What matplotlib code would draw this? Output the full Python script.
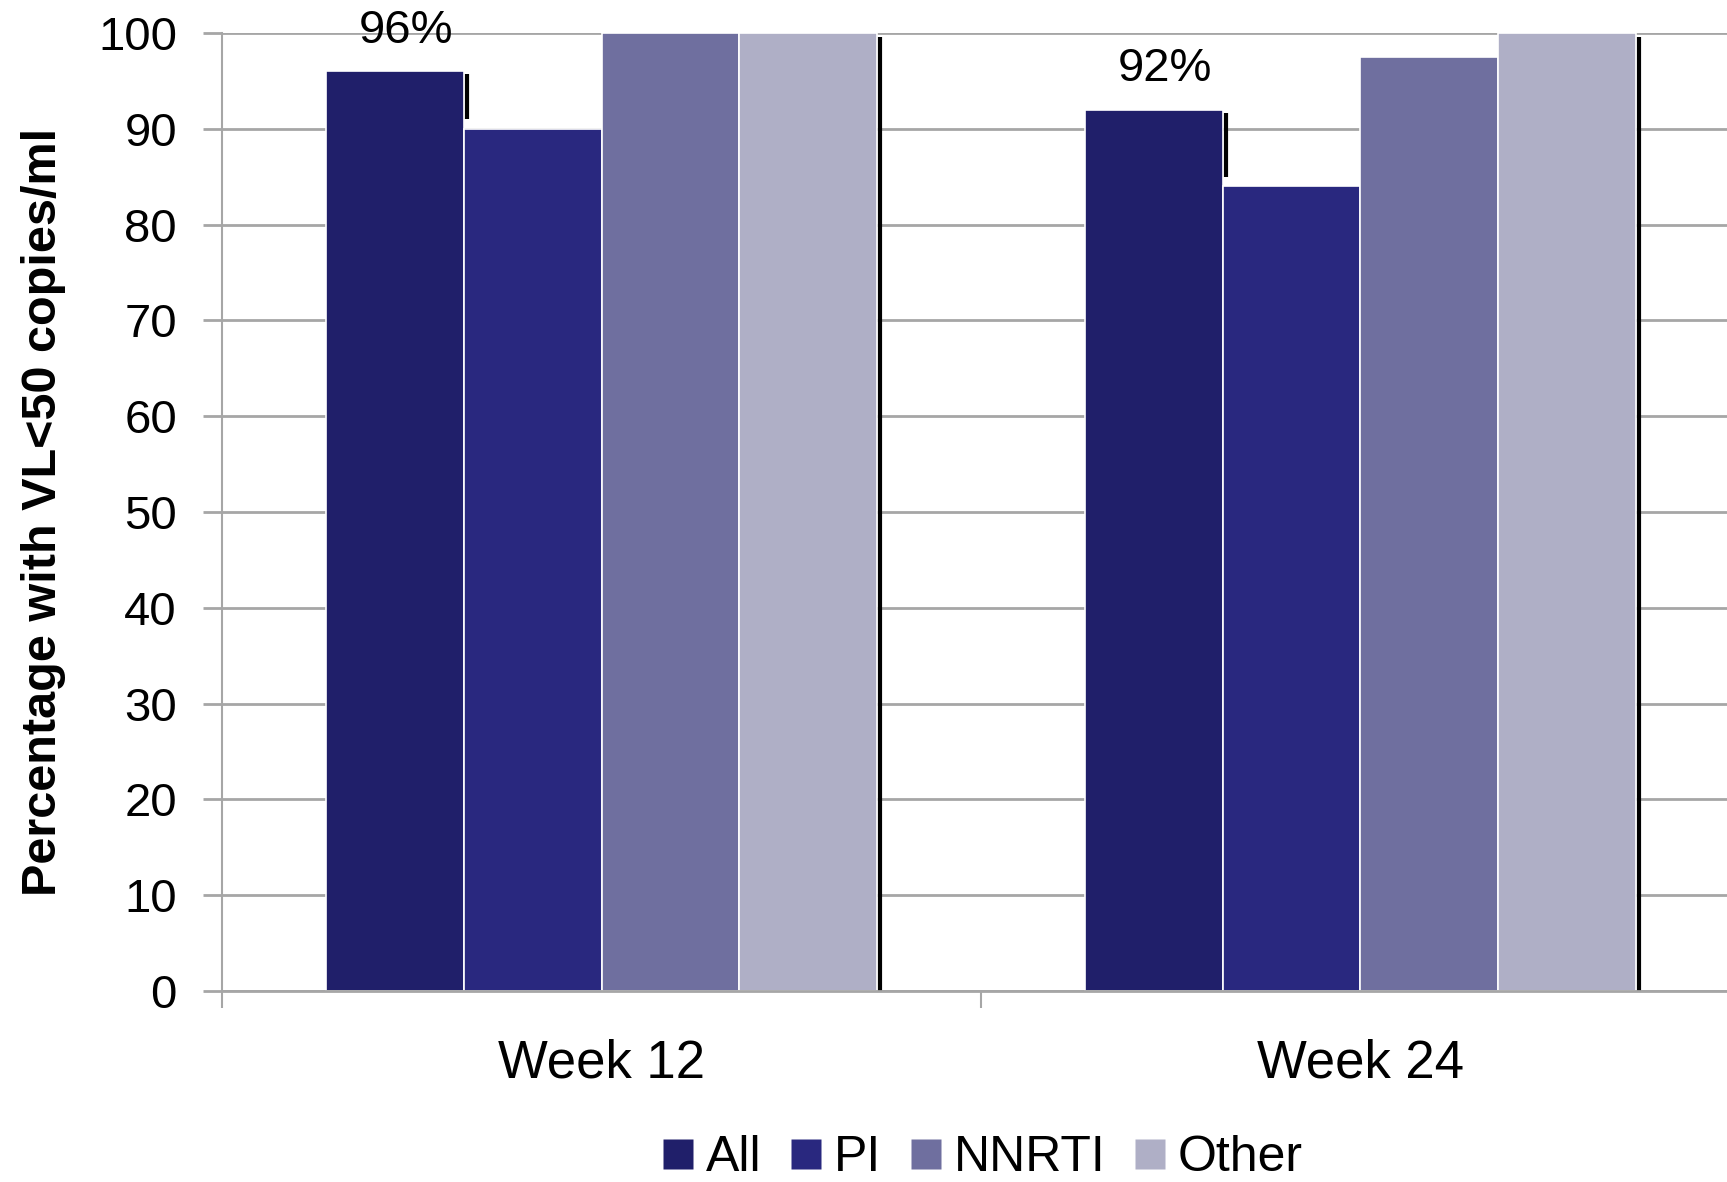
import numpy as np
from matplotlib import pyplot as plt

# viral load suppression by regimen group
weeks = ['Week 12', 'Week 24']
groups = ['All', 'PI', 'NNRTI', 'Other']
all_pct = [96, 92]
pi_pct = [90, 84]
nnrti_pct = [100, 97.5]
other_pct = [100, 100]
labels = ['96%', '92%']

colors = ['#201f6a', '#29287f', '#6f6f9f', '#afafc6']

plt.rcParams['font.family'] = ['Liberation Sans', 'DejaVu Sans']

fig = plt.figure(figsize=(17.27, 11.82), dpi=100)
ax = fig.add_axes([0.1286, 0.1616, 0.8714, 0.8104])

x = np.arange(len(weeks))
w = 0.1815
series = [all_pct, pi_pct, nnrti_pct, other_pct]
for i, (name, vals) in enumerate(zip(groups, series)):
    ax.bar(x + (i - 1.5) * w, vals, w, color=colors[i], edgecolor='white',
           linewidth=1.2, label=name, zorder=3)

# dark edge lines at the right side of the "All" and "Other" bars
for k in range(len(weeks)):
    ax.vlines(x[k] - w + 0.004, pi_pct[k] + 1.0, all_pct[k] - 0.3,
              color='black', linewidth=3, zorder=4)
    ax.vlines(x[k] + 2 * w + 0.004, 0, other_pct[k] - 0.4,
              color='black', linewidth=3, zorder=4)

for k, txt in enumerate(labels):
    ax.text(x[k] - 1.5 * w + 0.014, all_pct[k] + 4.2, txt, ha='center',
            va='center', fontsize=34)

ax.set_yticks(np.arange(0, 101, 10))
ax.yaxis.grid(True, color='#a6a6a6', linewidth=2, zorder=0)
ax.tick_params(axis='y', length=13.5, width=2, color='#a6a6a6', labelsize=34,
               pad=19)

# category ticks sit between the groups
ax.set_xticks([-0.5, 0.5, 1.5])
ax.set_xticklabels([])
ax.tick_params(axis='x', length=12, width=1.5, color='#a6a6a6')
ax.set_xlim(-0.5, 1.483)
ax.set_ylim(0, 100)
for k, name in enumerate(weeks):
    ax.text(x[k], -7.6, name, ha='center', va='center', fontsize=38)

for side in ['top', 'right']:
    ax.spines[side].set_visible(False)
ax.spines['bottom'].set_color('#a6a6a6')
ax.spines['bottom'].set_linewidth(2)
ax.spines['bottom'].set_zorder(5)
ax.spines['left'].set_color('#a6a6a6')
ax.spines['left'].set_linewidth(1.5)

ax.set_ylabel('Percentage with VL<50 copies/ml', fontsize=35, fontweight='bold')
ax.yaxis.set_label_coords(-0.104, 0.5)

handles = [plt.Line2D([], [], marker='s', linestyle='none', markersize=21,
                      markerfacecolor=c, markeredgecolor='none') for c in colors]
fig.legend(handles, groups, loc='center', bbox_to_anchor=(0.567, 0.02),
           ncol=4, frameon=False, fontsize=36, handletextpad=0.1,
           columnspacing=0.45, handlelength=0.9)

fig.savefig('out.png', dpi=100)
